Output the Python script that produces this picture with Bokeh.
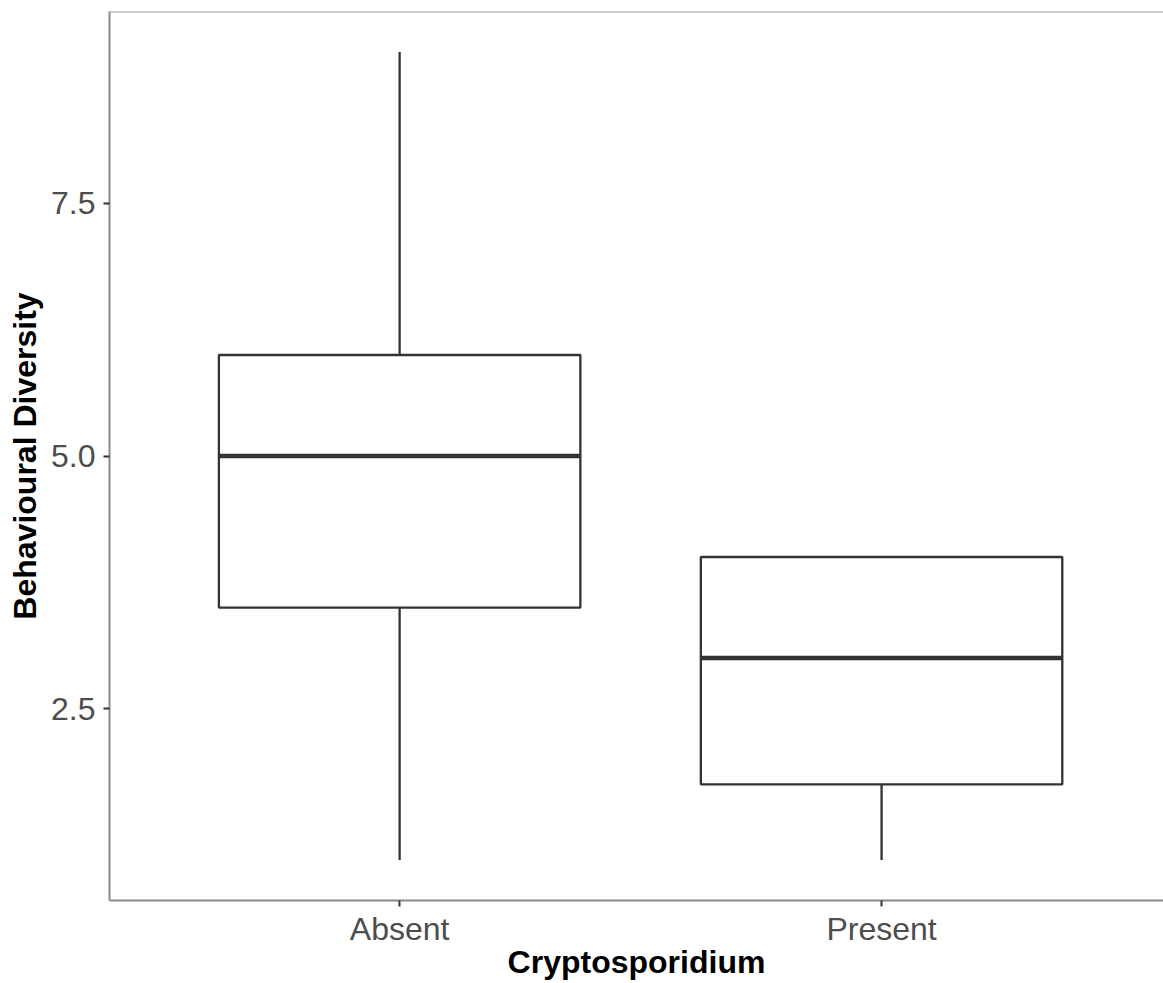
from bokeh.plotting import figure
from bokeh.models import Range1d, FixedTicker, Span, ColumnDataSource
from bokeh.embed import file_html
from bokeh.resources import INLINE

# Data
categories = ["Absent", "Present"]
lower_whisker = [1.0, 1.0]
q1 = [3.5, 1.75]
median = [5.0, 3.0]
q3 = [6.0, 4.0]
upper_whisker = [9.0, 4.0]
y_ticks = [2.5, 5.0, 7.5]

box_width = 0.75
xpos = [i + 1 for i in range(len(categories))]

src = ColumnDataSource(dict(
    x=xpos,
    left=[x - box_width / 2 for x in xpos],
    right=[x + box_width / 2 for x in xpos],
    lw=lower_whisker, q1=q1, med=median, q3=q3, uw=upper_whisker,
))

ymin = min(lower_whisker)
ymax = max(upper_whisker)
pad = (ymax - ymin) * 0.05

p = figure(width=1163, height=983, output_backend="svg", toolbar_location=None,
           x_range=Range1d(0.398, 2.585), y_range=Range1d(ymin - pad, ymax + pad),
           min_border_left=109, min_border_top=11, min_border_bottom=83, min_border_right=0)

p.outline_line_color = None
p.background_fill_color = "white"
p.border_fill_color = "white"
p.xgrid.visible = False
p.ygrid.visible = False

line_col = "#333333"
# whiskers
p.segment(x0="x", y0="q3", x1="x", y1="uw", source=src, line_color=line_col, line_width=2.3)
p.segment(x0="x", y0="lw", x1="x", y1="q1", source=src, line_color=line_col, line_width=2.3)
# boxes
p.quad(left="left", right="right", bottom="q1", top="q3", source=src,
       fill_color="white", line_color=line_col, line_width=2.3)
# medians
p.segment(x0="left", y0="med", x1="right", y1="med", source=src, line_color=line_col, line_width=4.5)

# top panel border
p.add_layout(Span(location=ymax + pad, dimension="width", line_color="#a0a0a0", line_width=2))

font = "Liberation Sans"
for ax in (p.xaxis[0], p.yaxis[0]):
    ax.axis_line_color = "#8a8a8a"
    ax.axis_line_width = 2
    ax.major_tick_line_color = line_col
    ax.major_tick_line_width = 2
    ax.major_tick_out = 6
    ax.major_tick_in = 0
    ax.minor_tick_line_color = None
    ax.major_label_text_font = font
    ax.major_label_text_font_size = "32px"
    ax.major_label_text_color = "#4d4d4d"
    ax.axis_label_text_font = font
    ax.axis_label_text_font_size = "32px"
    ax.axis_label_text_font_style = "bold"
    ax.axis_label_text_color = "black"

p.xaxis.ticker = FixedTicker(ticks=xpos)
p.xaxis.major_label_overrides = {x: c for x, c in zip(xpos, categories)}
p.xaxis.axis_label = "Cryptosporidium"
p.xaxis.major_label_standoff = 4
p.xaxis.axis_label_standoff = -6

p.yaxis.ticker = FixedTicker(ticks=y_ticks)
p.yaxis.major_label_overrides = {t: f"{t:.1f}" for t in y_ticks}
p.yaxis.axis_label = "Behavioural Diversity"
p.yaxis.major_label_standoff = 8
p.yaxis.axis_label_standoff = 5

open("out.html", "w").write(file_html(p, INLINE))
